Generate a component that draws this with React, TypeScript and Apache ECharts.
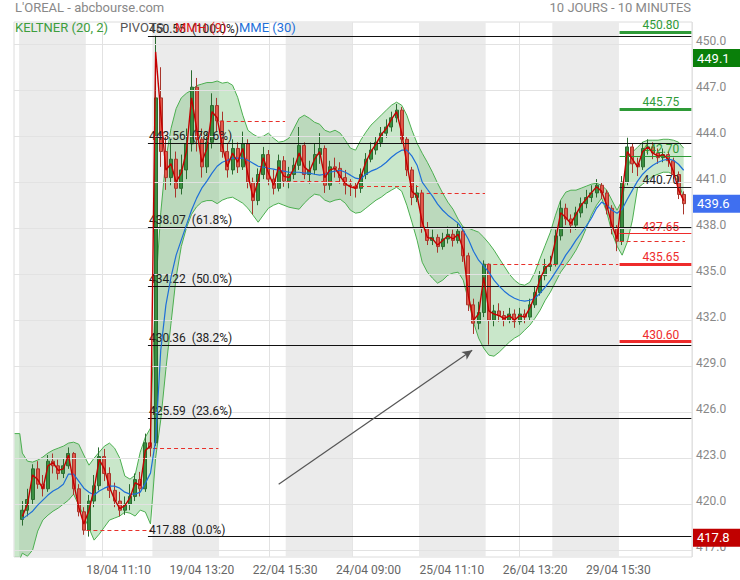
import React, { useEffect, useRef } from "react";
import * as echarts from "echarts";

// ---------- axis / categories ----------
const days = ["17/04", "18/04", "19/04", "22/04", "23/04", "24/04", "25/04", "26/04", "29/04", "30/04"];
const shadedDays = [0, 2, 4, 6, 8];
const SLOTS = 52; // 10-minute slots per session 09:00 .. 17:30
const PAD_L = 4;
const PAD_R = 5;
const STEP = 4; // one drawn candle per 4 slots
const LABEL_EVERY = 65;
const Y_MIN = 416.55;
const Y_MAX = 451.45;
const yTicks = [417, 420, 423, 426, 429, 432, 435, 438, 441, 444, 447, 450];

// ---------- price data (open, close, low, high) ----------
const candles: number[][] = [
  // 17/04
  [419.0, 419.6, 418.6, 420.2], [419.6, 420.3, 419.2, 421.0], [420.3, 422.3, 420.0, 422.6], [422.3, 421.3, 421.0, 422.8],
  [421.3, 421.0, 420.5, 421.9], [421.0, 422.8, 420.8, 423.2], [422.8, 422.5, 422.0, 423.3], [422.5, 422.0, 421.6, 422.9],
  [422.0, 422.5, 421.7, 423.0], [422.5, 423.3, 422.3, 423.7], [423.3, 421.0, 420.6, 423.4], [421.0, 419.5, 419.2, 421.3],
  [419.5, 418.3, 418.0, 419.8],
  // 18/04
  [418.3, 420.2, 417.88, 420.6], [420.2, 421.2, 419.8, 421.9], [421.2, 423.1, 420.9, 423.7], [423.1, 422.0, 421.5, 423.6],
  [422.0, 420.9, 420.4, 422.4], [420.9, 420.2, 419.8, 421.4], [420.2, 419.6, 419.2, 420.8], [419.6, 420.0, 419.3, 420.5],
  [420.0, 420.5, 419.6, 421.3], [420.5, 421.6, 420.2, 422.0], [421.6, 421.0, 420.5, 422.1], [421.0, 424.0, 420.8, 424.6],
  [424.0, 423.65, 423.1, 424.3],
  // 19/04
  [424.0, 446.5, 423.8, 450.55], [446.5, 443.0, 442.0, 448.5], [443.0, 441.3, 440.5, 444.0], [441.3, 442.5, 440.8, 443.8],
  [442.5, 440.6, 440.0, 443.0], [440.6, 441.8, 440.2, 442.8], [441.8, 443.5, 441.2, 444.5], [443.5, 447.2, 443.0, 448.3],
  [447.2, 443.8, 443.0, 447.8], [443.8, 442.0, 441.3, 444.5], [442.0, 443.6, 441.6, 444.2], [443.6, 446.0, 443.2, 446.8],
  [446.0, 445.0, 444.3, 446.5],
  // 22/04
  [445.0, 443.0, 442.6, 445.6], [443.0, 441.8, 441.3, 443.5], [441.8, 443.2, 441.5, 443.8], [443.2, 442.0, 441.6, 443.6],
  [442.0, 443.5, 441.8, 444.3], [443.5, 441.0, 440.6, 443.8], [441.0, 439.8, 438.9, 441.3], [439.8, 441.5, 439.5, 441.9],
  [441.5, 442.8, 441.2, 443.3], [442.8, 441.2, 440.8, 443.1], [441.2, 440.6, 440.2, 441.8], [440.6, 442.4, 440.4, 442.8],
  [442.4, 441.07, 440.7, 442.7],
  // 23/04
  [441.07, 441.5, 440.6, 442.0], [441.5, 442.1, 441.2, 442.6], [442.1, 443.4, 441.8, 444.6], [443.4, 441.5, 441.2, 443.6],
  [441.5, 441.8, 440.9, 442.4], [441.8, 442.8, 441.5, 443.5], [442.8, 443.2, 442.2, 444.2], [443.2, 440.8, 440.3, 443.4],
  [440.8, 442.0, 440.5, 442.4], [442.0, 441.9, 441.3, 442.6], [441.9, 441.3, 440.9, 442.3], [441.3, 440.8, 440.2, 441.8],
  [440.8, 440.75, 440.1, 441.2],
  // 24/04
  [440.75, 440.6, 440.0, 441.0], [440.6, 441.5, 440.3, 441.9], [441.5, 442.5, 441.2, 442.9], [442.5, 443.1, 442.3, 443.6],
  [443.1, 443.6, 442.8, 444.0], [443.6, 444.2, 443.3, 444.6], [444.2, 444.6, 443.9, 445.1], [444.6, 445.2, 444.3, 445.6],
  [445.2, 445.7, 444.9, 446.1], [445.7, 443.8, 443.5, 445.9], [443.8, 441.8, 441.4, 444.0], [441.8, 440.0, 439.5, 442.0],
  [440.0, 440.3, 439.7, 440.8],
  // 25/04
  [440.3, 438.0, 437.7, 440.5], [438.0, 437.2, 436.9, 438.4], [437.2, 437.4, 436.9, 437.9], [437.4, 436.8, 436.4, 437.6],
  [436.8, 437.3, 436.6, 437.7], [437.3, 437.6, 437.0, 438.1], [437.6, 437.2, 436.8, 437.9], [437.2, 437.8, 437.0, 438.3],
  [437.8, 436.2, 435.8, 438.0], [436.2, 433.0, 432.6, 436.4], [433.0, 431.8, 431.1, 433.4], [431.8, 432.5, 431.4, 433.2],
  [432.5, 435.65, 432.2, 435.9],
  // 26/04
  [435.65, 432.0, 430.4, 435.7], [432.0, 432.6, 431.6, 433.0], [432.6, 432.3, 431.9, 433.1], [432.3, 432.0, 431.6, 432.6],
  [432.0, 432.4, 431.8, 432.8], [432.4, 431.9, 431.5, 432.7], [431.9, 432.4, 431.7, 432.8], [432.4, 432.2, 431.8, 432.7],
  [432.2, 433.0, 432.0, 433.4], [433.0, 433.8, 432.8, 434.2], [433.8, 434.9, 433.6, 435.2], [434.9, 435.5, 434.6, 436.0],
  [435.5, 435.65, 435.2, 436.2],
  // 29/04
  [435.65, 437.5, 435.5, 437.9], [437.5, 439.3, 437.2, 439.8], [439.3, 438.6, 438.2, 439.6], [438.6, 438.2, 437.7, 438.9],
  [438.2, 439.0, 437.9, 439.4], [439.0, 439.6, 438.7, 440.0], [439.6, 440.0, 439.3, 440.5], [440.0, 440.3, 439.7, 440.8],
  [440.3, 440.8, 440.0, 441.2], [440.8, 440.3, 439.9, 441.0], [440.3, 439.3, 438.9, 440.5], [439.3, 438.0, 437.6, 439.5],
  [438.0, 437.15, 436.5, 438.2],
  // 30/04
  [437.15, 441.0, 436.9, 441.4], [441.0, 443.3, 440.8, 443.9], [443.3, 442.2, 441.6, 443.5], [442.2, 442.0, 441.4, 442.6],
  [442.0, 443.2, 441.8, 443.6], [443.2, 443.3, 442.8, 443.8], [443.3, 442.9, 442.5, 443.6], [442.9, 442.6, 442.2, 443.2],
  [442.6, 442.8, 442.3, 443.2], [442.8, 442.4, 442.0, 443.0], [442.4, 441.5, 441.2, 442.6], [441.5, 440.2, 439.9, 441.7],
  [440.2, 439.6, 438.9, 440.4],
];

// MMH (9) – red line
const mmh = [
  419.2, 420.0, 421.9, 421.6, 421.0, 422.5, 422.7, 422.2, 422.3, 423.2, 421.4, 419.8, 418.7,
  419.6, 421.0, 422.9, 422.3, 421.1, 420.3, 419.7, 419.9, 420.4, 421.4, 421.2, 423.5, 423.8,
  449.5, 445.5, 441.8, 442.2, 441.0, 441.6, 443.0, 446.5, 444.5, 442.3, 443.2, 445.6, 445.2,
  443.4, 442.0, 442.9, 442.3, 443.2, 441.5, 440.0, 441.1, 442.6, 441.6, 440.8, 442.0, 441.4,
  441.3, 441.9, 442.9, 442.0, 441.7, 442.5, 443.0, 441.3, 441.8, 441.9, 441.4, 440.9, 440.7,
  440.6, 441.3, 442.3, 443.0, 443.5, 444.1, 444.5, 445.1, 445.6, 444.2, 442.2, 440.4, 440.1,
  438.4, 437.4, 437.3, 436.9, 437.2, 437.5, 437.3, 437.6, 436.6, 433.6, 432.0, 432.4, 434.8,
  432.6, 432.4, 432.3, 432.1, 432.3, 432.0, 432.3, 432.2, 432.8, 433.6, 434.7, 435.4, 435.7,
  437.2, 439.0, 438.7, 438.3, 438.9, 439.5, 439.9, 440.3, 440.7, 440.4, 439.5, 438.2, 437.3,
  440.3, 443.0, 442.5, 442.0, 443.0, 443.3, 442.9, 442.7, 442.8, 442.5, 441.7, 440.5, 439.8,
];

// MME (30) – blue line
const mme = [
  419.02, 419.28, 419.54, 419.93, 420.26, 420.59, 420.85, 421.04, 421.30, 421.96, 421.96, 421.50, 421.04,
  420.78, 420.59, 420.85, 421.04, 421.17, 421.17, 421.04, 420.78, 420.65, 420.65, 420.78, 421.37, 422.02,
  424.17, 430.04, 432.98, 434.80, 436.24, 437.22, 438.20, 439.17, 439.96, 440.61, 441.07, 441.59, 442.04,
  442.30, 442.43, 442.57, 442.57, 442.57, 442.43, 442.24, 442.04, 441.98, 441.91, 441.85, 441.78, 441.72,
  441.65, 441.65, 441.65, 441.59, 441.59, 441.52, 441.46, 441.52, 441.65, 441.72, 441.78, 441.65, 441.46,
  441.26, 441.20, 441.52, 441.72, 441.85, 442.04, 442.30, 442.63, 442.89, 443.09, 443.09, 442.70, 442.11,
  441.00, 440.54, 440.09, 439.57, 439.17, 438.85, 438.59, 438.33, 437.87, 437.28, 436.50, 435.91, 435.52,
  435.13, 434.61, 434.22, 433.89, 433.63, 433.43, 433.30, 433.24, 433.30, 433.43, 433.76, 434.15, 434.61,
  435.13, 435.65, 436.24, 436.70, 437.22, 437.67, 438.13, 438.65, 439.30, 439.70, 439.50, 439.17, 438.98,
  439.24, 439.89, 440.48, 441.07, 441.52, 441.85, 442.11, 442.30, 442.43, 442.50, 442.43, 442.17, 441.78,
];

// KELTNER (20, 2)
const keltnerLeadUpper = [424.6, 424.6];
const keltnerLeadLower = [416.4, 416.4];
const keltnerLeadSlots = [0, 4];
const kUpper = [
  423.33, 422.80, 422.74, 422.87, 423.07, 423.33, 423.52, 423.65, 423.78, 423.98, 424.04, 423.91, 423.20,
  422.54, 423.00, 423.39, 423.78, 423.98, 423.65, 423.00, 421.83, 421.63, 421.89, 423.39, 424.37, 424.96,
  434.00, 439.00, 442.50, 444.50, 445.80, 446.50, 446.80, 447.00, 447.30, 447.40, 447.50, 447.50, 447.60,
  447.46, 447.52, 447.33, 446.54, 445.37, 444.39, 444.13, 443.94, 444.00, 444.20, 443.87, 443.61, 443.67,
  443.87, 444.52, 445.17, 445.37, 445.17, 444.91, 444.78, 444.39, 444.26, 444.39, 444.20, 443.74, 443.22,
  443.09, 443.74, 444.26, 444.72, 445.04, 445.37, 445.70, 446.02, 446.22, 446.02, 445.37, 444.39, 443.54,
  442.89, 442.30, 441.65, 440.93, 440.28, 439.70, 439.24, 438.59, 438.07, 438.00, 437.87, 437.74, 437.41,
  437.02, 436.57, 436.04, 435.52, 435.00, 434.61, 434.35, 434.28, 434.48, 435.13, 436.04, 436.89, 437.74,
  438.85, 439.83, 440.35, 440.48, 440.48, 440.61, 440.74, 440.87, 440.93, 440.80, 440.48, 439.83, 439.17,
  439.83, 441.78, 442.96, 443.28, 443.61, 443.74, 443.74, 443.74, 443.80, 443.80, 443.74, 443.61, 443.22,
];
const kLower = [
  416.80, 416.60, 417.00, 418.24, 418.96, 419.28, 419.54, 419.74, 420.00, 420.26, 420.65, 419.93, 419.22,
  418.43, 417.65, 418.04, 418.50, 418.96, 419.09, 419.22, 419.48, 419.41, 419.22, 419.61, 419.48, 418.70,
  423.00, 425.50, 428.80, 431.80, 434.80, 436.80, 438.00, 438.90, 439.40, 439.70, 439.80, 439.80, 439.60,
  439.83, 439.96, 440.02, 439.83, 439.63, 439.30, 438.85, 438.39, 438.85, 439.30, 439.50, 439.63, 439.50,
  439.37, 439.30, 439.24, 439.63, 439.96, 440.22, 440.15, 439.83, 439.70, 439.83, 439.89, 439.63, 439.17,
  438.98, 439.04, 439.30, 439.57, 439.83, 440.02, 440.28, 440.48, 440.67, 440.41, 439.50, 438.39, 437.22,
  435.78, 435.13, 434.74, 434.41, 434.61, 434.93, 435.07, 435.13, 434.61, 433.30, 431.87, 430.83, 430.17,
  429.72, 429.65, 429.91, 430.24, 430.57, 430.83, 431.02, 431.35, 431.67, 432.13, 432.65, 433.30, 433.83,
  434.48, 435.13, 435.59, 436.04, 436.57, 437.22, 438.00, 438.85, 439.50, 439.96, 439.04, 437.74, 436.83,
  436.24, 437.09, 438.52, 440.61, 440.87, 441.13, 441.39, 441.52, 441.65, 441.65, 441.52, 441.00, 439.96,
];

// Fibonacci retracement levels
const fibValues = [450.55, 443.56, 438.07, 434.22, 430.36, 425.59, 417.88];
const fibPercents = ["100.0%", "78.6%", "61.8%", "50.0%", "38.2%", "23.6%", "0.0%"];
const FIB_START_SLOT = 104;

// Pivots (last session)
const pivotValues = [450.8, 445.75, 442.7, 440.7, 437.65, 435.65, 430.6];
const pivotColors = ["#2e9a37", "#2e9a37", "#2e9a37", "#222222", "#ee2b2b", "#ee2b2b", "#ee2b2b"];
const pivotWidths = [3, 3, 1, 1, 1, 3, 3];
const PIVOT_DAY = 9;

// previous-session close, drawn dashed on sessions 1..9
const prevClose = [418.3, 423.65, 445.0, 441.07, 440.75, 440.3, 435.65, 435.65, 437.15];

// price tags on the right axis
const tagValues = [449.1, 439.6, 417.8];
const tagColors = ["#0a7f0a", "#3f6ff0", "#c00000"];

// hand-drawn arrow (slot index, price)
const arrowFrom = [206, 421.3];
const arrowTo = [357, 430.04];

const FONT = "Roboto, 'Noto Sans', sans-serif";

function buildCategories(): string[] {
  const times: string[] = [];
  for (let m = 9 * 60; m <= 17 * 60 + 30; m += 10) {
    const h = Math.floor(m / 60);
    const mm = m % 60;
    times.push(`${h < 10 ? "0" + h : h}:${mm < 10 ? "0" + mm : mm}`);
  }
  const cats: string[] = [];
  for (let i = 0; i < PAD_L; i++) cats.push(`pre${i}`);
  days.forEach((d) => times.forEach((t) => cats.push(`${d} ${t}`)));
  for (let i = 0; i < PAD_R; i++) cats.push(`post${i}`);
  return cats;
}

export default function App() {
  const ref = useRef<HTMLDivElement>(null);

  useEffect(() => {
    if (!ref.current) return;
    const chart = echarts.init(ref.current, undefined, { renderer: "svg" });
    const categories = buildCategories();
    const lastCat = categories.length - 1;
    const lastDataCat = PAD_L + days.length * SLOTS - 1;
    const candleSlot = candles.map((_, k) => PAD_L + k * STEP + 2);
    const bandX = [...keltnerLeadSlots, ...candleSlot];
    const bandU = [...keltnerLeadUpper, ...kUpper];
    const bandL = [...keltnerLeadLower, ...kLower];
    const showLabel = (idx: number) => idx > PAD_L && idx <= lastDataCat && (idx - PAD_L) % LABEL_EVERY === 0;

    const option: any = {
      animation: false,
      grid: {
        left: 14, right: 48, top: 22, bottom: 23,
        show: true, borderColor: "#dcdcdc", borderWidth: 1,
        outerBoundsMode: "none",
      },
      xAxis: {
        type: "category",
        data: categories,
        boundaryGap: true,
        axisLine: { show: false },
        axisTick: { show: false },
        axisLabel: {
          interval: (idx: number) => showLabel(idx),
          color: "#666", fontSize: 12, fontFamily: FONT, margin: 7,
          padding: [0, 0, 0, 31],
        },
        splitLine: { show: true, interval: (idx: number) => showLabel(idx), lineStyle: { color: "#e2e2e2", width: 1 } },
      },
      yAxis: {
        type: "value", position: "right", min: Y_MIN, max: Y_MAX, scale: true,
        axisLabel: { show: false }, axisLine: { show: false }, axisTick: { show: false }, splitLine: { show: false },
      },
      graphic: [
        { type: "text", left: 15, top: 1, z: 100, style: { text: "L'OREAL - abcbourse.com", fill: "#888", fontSize: 13, fontFamily: FONT } },
        { type: "text", right: 49, top: 1, z: 100, style: { text: "10 JOURS - 10 MINUTES", fill: "#888", fontSize: 13, fontFamily: FONT } },
        { type: "text", left: 15, top: 21, z: 100, style: { text: "KELTNER (20, 2)", fill: "#3d9e3d", fontSize: 13, fontFamily: FONT } },
        { type: "text", left: 120, top: 21, z: 100, style: { text: "PIVOTS", fill: "#555", fontSize: 13, fontFamily: FONT } },
        { type: "text", left: 175, top: 21, z: 100, style: { text: "MMH (9)", fill: "#e01818", fontSize: 13, fontFamily: FONT } },
        { type: "text", left: 239, top: 21, z: 100, style: { text: "MME (30)", fill: "#1e6fd8", fontSize: 13, fontFamily: FONT } },
      ],
      series: [
        // shaded sessions
        {
          type: "custom", z: 0, silent: true,
          data: shadedDays.map((d) => [PAD_L + d * SLOTS, PAD_L + d * SLOTS + SLOTS - 1]),
          renderItem: (params: any, api: any) => {
            const bw = api.size([1, 0])[0];
            const x0 = api.coord([api.value(0), Y_MAX])[0] - bw / 2;
            const x1 = api.coord([api.value(1), Y_MAX])[0] + bw / 2;
            const cs = params.coordSys;
            return { type: "rect", shape: { x: x0, y: cs.y, width: x1 - x0, height: cs.height }, style: { fill: "#ebebeb" } };
          },
        },
        // horizontal grid + right labels
        {
          type: "line", z: 1, data: [], silent: true,
          markLine: {
            silent: true, symbol: "none", animation: false,
            data: yTicks.map((v) => ({
              yAxis: v,
              lineStyle: { color: "#e2e2e2", width: 1, type: "solid" },
              label: { show: true, position: "end", formatter: v.toFixed(1), color: "#888", fontSize: 12, fontFamily: FONT, distance: 4, offset: [0, -3] },
            })),
          },
        },
        // previous close dashed lines
        {
          type: "line", z: 2, data: [], silent: true,
          markLine: {
            silent: true, symbol: "none", animation: false,
            data: prevClose.map((v, i) => [
              { coord: [PAD_L + (i + 1) * SLOTS, v], lineStyle: { color: "#e8302a", width: 1, type: [4, 3] }, label: { show: false } },
              { coord: [PAD_L + (i + 1) * SLOTS + SLOTS - 1, v] },
            ]),
          },
        },
        // Keltner fill
        {
          type: "custom", z: 3, silent: true, clip: true,
          data: [[bandX[0], bandU[0]]],
          renderItem: (_params: any, api: any) => {
            const pts: number[][] = [];
            for (let i = 0; i < bandX.length; i++) pts.push(api.coord([bandX[i], bandU[i]]));
            for (let i = bandX.length - 1; i >= 0; i--) pts.push(api.coord([bandX[i], bandL[i]]));
            return { type: "polygon", shape: { points: pts }, style: { fill: "rgba(76,175,80,0.30)" } };
          },
        },
        {
          type: "line", z: 3, name: "KU", showSymbol: false, silent: true,
          data: bandX.map((x, i) => [x, bandU[i]]),
          lineStyle: { color: "#4caf50", width: 1 },
        },
        {
          type: "line", z: 3, name: "KL", showSymbol: false, silent: true,
          data: bandX.map((x, i) => [x, bandL[i]]),
          lineStyle: { color: "#4caf50", width: 1 },
        },
        // candles
        {
          type: "candlestick", z: 4, silent: true, barWidth: 3.5,
          encode: { x: 0, y: [1, 2, 3, 4] },
          data: candles.map((c, k) => [candleSlot[k], c[0], c[1], c[2], c[3]]),
          itemStyle: { color: "#3a8f40", color0: "#e2574a", borderColor: "#2b6b30", borderColor0: "#a8352b", borderWidth: 1 },
        },
        // MME (30)
        {
          type: "line", z: 5, name: "MME (30)", showSymbol: false, silent: true,
          data: candleSlot.map((x, i) => [x, mme[i]]),
          lineStyle: { color: "#1e6fd8", width: 1.2 },
        },
        // MMH (9)
        {
          type: "line", z: 5, name: "MMH (9)", showSymbol: false, silent: true,
          data: candleSlot.map((x, i) => [x, mmh[i]]),
          lineStyle: { color: "#c40000", width: 1.4 },
        },
        // Fibonacci
        {
          type: "line", z: 6, data: [], silent: true,
          markLine: {
            silent: true, symbol: "none", animation: false,
            data: fibValues.map((v, i) => [
              {
                coord: [FIB_START_SLOT, v],
                lineStyle: { color: "#111", width: 1, type: "solid" },
                label: { show: true, position: "insideStartTop", formatter: `${v.toFixed(2)}  (${fibPercents[i]})`, color: "#222", fontSize: 12, fontFamily: FONT, distance: 1 },
              },
              { coord: [lastCat, v] },
            ]),
          },
        },
        // pivots and arrow
        {
          type: "line", z: 7, data: [], silent: true,
          markLine: {
            silent: true, symbol: "none", animation: false,
            data: [
              ...pivotValues.map((v, i) => [
                {
                  coord: [PAD_L + PIVOT_DAY * SLOTS, v],
                  lineStyle: { color: pivotColors[i], width: pivotWidths[i], type: "solid" },
                  label: { show: true, position: "insideEndTop", formatter: v.toFixed(2), color: pivotColors[i], fontSize: 12, fontFamily: FONT, distance: 1, padding: [0, 11, 0, 0] },
                },
                { coord: [lastCat, v] },
              ]),
              [
                { coord: arrowFrom, symbol: "none", lineStyle: { color: "#555", width: 1.2, type: "solid" }, label: { show: false } },
                { coord: arrowTo, symbol: "arrow", symbolSize: [7, 10] },
              ],
            ],
          },
        },
        // price tags on the right
        {
          type: "line", z: 8, data: [], silent: true,
          markLine: {
            silent: true, symbol: "none", animation: false,
            data: tagValues.map((v, i) => ({
              yAxis: v,
              lineStyle: { color: "rgba(0,0,0,0)", width: 0 },
              label: {
                show: true, position: "end", formatter: v.toFixed(1), color: "#ffffff",
                backgroundColor: tagColors[i], fontSize: 13, lineHeight: 16, fontFamily: FONT,
                distance: 1, padding: [1, 20, 1, 4],
              },
            })),
          },
        },
      ],
    };

    chart.setOption(option);
    return () => chart.dispose();
  }, []);

  return <div ref={ref} style={{ position: "absolute", left: 0, top: 0, width: 740, height: 580 }} />;
}
